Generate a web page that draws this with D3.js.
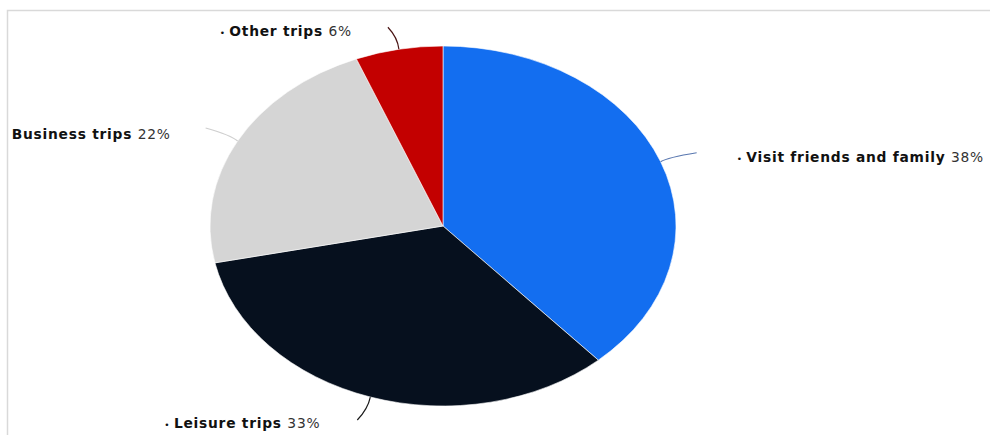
<!DOCTYPE html>
<html><head><meta charset="utf-8">
<script src="https://cdn.jsdelivr.net/npm/d3@7/dist/d3.min.js"></script>
<style>
html,body{margin:0;padding:0;background:#fff;}
svg{display:block;}
text{font-family:"DejaVu Sans",sans-serif;font-size:13.8px;letter-spacing:0.75px;fill:#111;}
</style></head>
<body>
<svg id="chart" width="990" height="435"></svg>
<script>
const categories = ["Visit friends and family", "Leisure trips", "Business trips", "Other trips"];
const values = [38, 33, 22, 6];
const percentLabels = ["38%", "33%", "22%", "6%"];
const colors = ["#136ef0", "#06101e", "#d5d5d5", "#c30000"];
const lineColors = ["#5a78b0", "#1a1a1a", "#cfcfcf", "#4a1515"];
const bullets = [true, true, false, true];

const W = 990, H = 435;
const cx = 443, cy = 226, rx = 233, ry = 180;
const svg = d3.select("#chart");

// frame
svg.append("path").attr("d", `M7.5,${H} V10.5 H${W}`).attr("fill","none").attr("stroke","#d9d9d9").attr("stroke-width",1.5);

const pie = d3.pie().sort(null).value(d => d)(values);
const arc = d3.arc().innerRadius(0).outerRadius(ry);

const g = svg.append("g").attr("transform", `translate(${cx},${cy}) scale(${rx/ry},1)`);
g.selectAll("path").data(pie).join("path")
  .attr("d", arc)
  .attr("fill", (d,i) => colors[i])
  .attr("stroke", "#ffffff").attr("stroke-width", 0.6)
  .attr("vector-effect","non-scaling-stroke");

// label layout (line end relative to slice edge point; text relative to line end)
const labelLayout = [
  {dx: 36, dy: -9, anchor: "start", tx: 40, ty: 9},
  {dx: -13, dy: 23, anchor: "end", tx: -37, ty: 8},
  {dx: -32, dy: -13, anchor: "end", tx: -35, ty: 11},
  {dx: -11, dy: -22, anchor: "end", tx: -36, ty: 9}
];

pie.forEach((d, i) => {
  const a = (d.startAngle + d.endAngle) / 2;
  const ex = cx + rx * Math.sin(a), ey = cy - ry * Math.cos(a);
  const L = labelLayout[i];
  const endX = ex + L.dx, endY = ey + L.dy;
  const ctrlX = ex + 12 * Math.sin(a) * 0.6, ctrlY = ey - 12 * Math.cos(a);
  svg.append("path")
    .attr("d", `M${ex},${ey} Q${ctrlX},${ctrlY} ${endX},${endY}`)
    .attr("fill","none").attr("stroke", lineColors[i]).attr("stroke-width", 1.2);
  const t = svg.append("text")
    .attr("x", endX + L.tx).attr("y", endY + L.ty)
    .attr("text-anchor", L.anchor);
  if (bullets[i]) t.append("tspan").text("•  ").attr("font-size", "9px");
  t.append("tspan").text(categories[i] + " ").attr("font-weight", "bold");
  t.append("tspan").text(percentLabels[i]).attr("fill", "#333");
});
</script>
</body></html>
